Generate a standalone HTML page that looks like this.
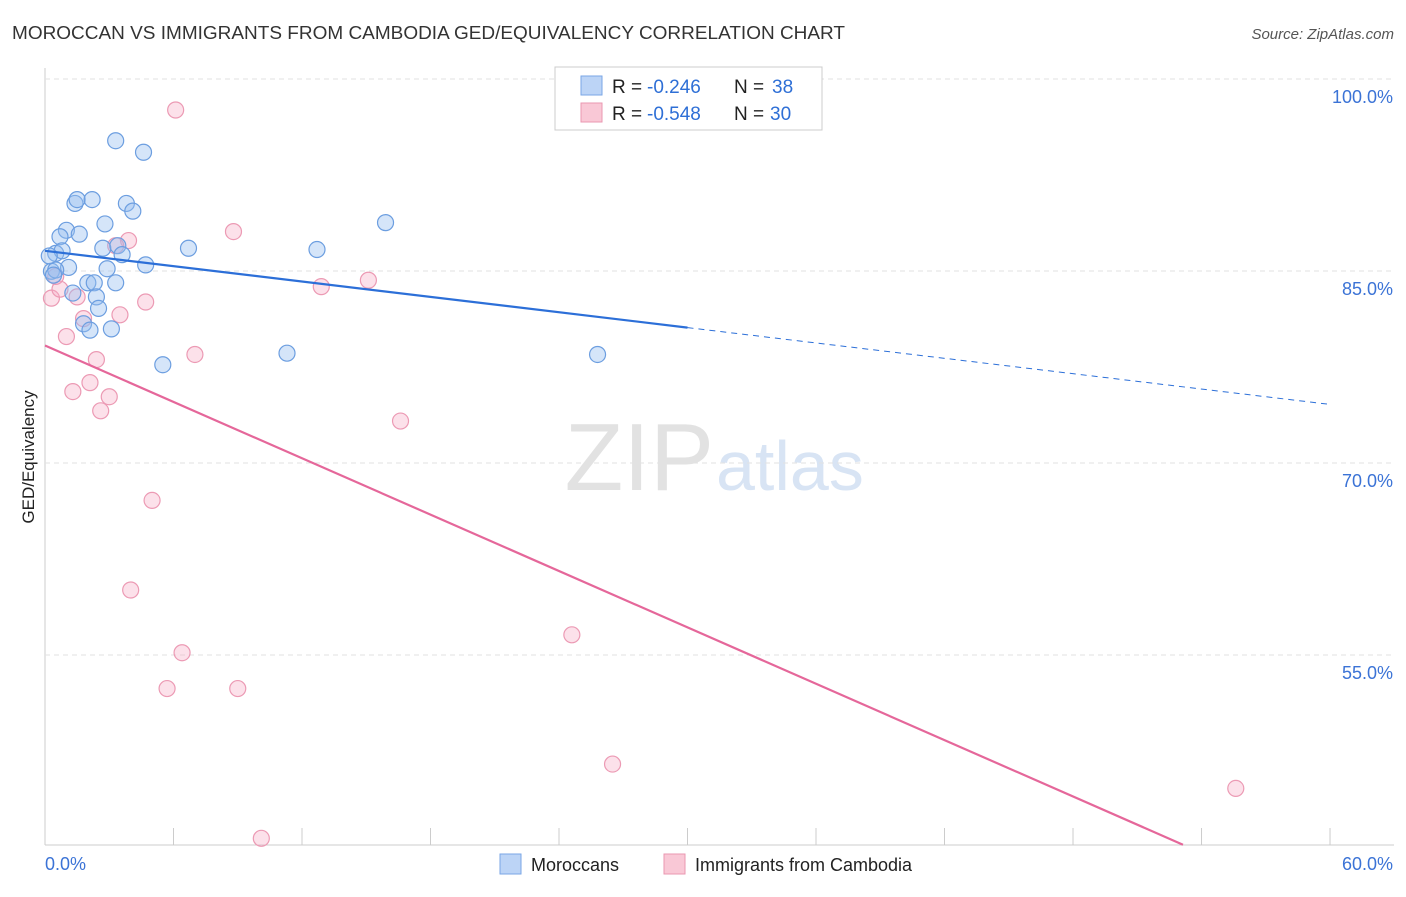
<!DOCTYPE html>
<html><head><meta charset="utf-8"><style>
body{margin:0;background:#fff;font-family:"Liberation Sans",sans-serif;}
svg text{font-family:"Liberation Sans",sans-serif;}
</style></head><body>
<svg id="c" width="1406" height="892" xmlns="http://www.w3.org/2000/svg">
<text x="12" y="39" font-size="18" fill="#333" textLength="833" lengthAdjust="spacingAndGlyphs">MOROCCAN VS IMMIGRANTS FROM CAMBODIA GED/EQUIVALENCY CORRELATION CHART</text>
<text x="1394" y="39" font-size="15" fill="#555" font-style="italic" text-anchor="end">Source: ZipAtlas.com</text>
<text x="714" y="490" font-size="96" fill="#e2e2e2" text-anchor="end" font-family="Liberation Serif">ZIP</text>
<text x="716" y="490" font-size="70" fill="#d8e4f4">atlas</text>
<text transform="translate(34,457) rotate(-90)" font-size="17" fill="#222" text-anchor="middle">GED/Equivalency</text>
<g id="grid"></g><g id="pts"></g><g id="lines"></g>
<g>
<rect x="555" y="67" width="267" height="63" fill="#fff" stroke="#ccc"/>
<rect x="581" y="76" width="21" height="19" fill="#bcd4f6" stroke="#7aa6e6"/>
<rect x="581" y="103" width="21" height="19" fill="#f9c8d6" stroke="#ea97b0"/>
<text x="612" y="93" font-size="19" fill="#222">R =</text>
<text x="647" y="93" font-size="19" fill="#2e6fd6">-0.246</text>
<text x="734" y="93" font-size="19" fill="#222">N =</text>
<text x="772" y="93" font-size="19" fill="#2e6fd6">38</text>
<text x="612" y="120" font-size="19" fill="#222">R =</text>
<text x="647" y="120" font-size="19" fill="#2e6fd6">-0.548</text>
<text x="734" y="120" font-size="19" fill="#222">N =</text>
<text x="770" y="120" font-size="19" fill="#2e6fd6">30</text>
</g>
<g>
<rect x="500" y="854" width="21" height="20" fill="#bcd4f6" stroke="#7aa6e6"/>
<text x="531" y="871" font-size="18" fill="#222">Moroccans</text>
<rect x="664" y="854" width="21" height="20" fill="#f9c8d6" stroke="#ea97b0"/>
<text x="695" y="871" font-size="18" fill="#222">Immigrants from Cambodia</text>
</g>
</svg>
<script>
const yTicks=[100,85,70,55];
const yTickLabels=["100.0%","85.0%","70.0%","55.0%"];
const xTicks=[0,6,12,18,24,30,36,42,48,54,60];
const blueX=[3.3,4.6,1.4,1.5,2.2,3.8,4.1,15.9,1.0,1.6,2.8,0.7,0.5,0.8,2.7,3.4,6.7,12.7,3.6,4.7,1.1,2.9,0.3,0.5,0.2,1.3,2.0,2.3,3.3,2.4,2.5,1.8,2.1,3.1,11.3,5.5,25.8,0.4];
const blueY=[95.1,94.2,90.2,90.5,90.5,90.2,89.6,88.7,88.1,87.8,88.6,87.6,86.3,86.5,86.7,86.9,86.7,86.6,86.2,85.4,85.2,85.1,84.9,85.0,86.1,83.2,84.0,84.0,84.0,82.9,82.0,80.8,80.3,80.4,78.5,77.6,78.4,84.6];
const pinkX=[6.1,8.8,3.9,3.3,15.1,12.9,4.7,0.3,0.7,0.5,1.5,3.5,1.8,1.0,2.4,7.0,2.1,1.3,3.0,2.6,16.6,5.0,4.0,24.6,6.4,5.7,9.0,26.5,55.6,10.1];
const pinkY=[97.5,88.0,87.3,86.9,84.2,83.7,82.5,82.8,83.5,84.5,82.9,81.5,81.2,79.8,78.0,78.4,76.2,75.5,75.1,74.0,73.2,67.0,60.0,56.5,55.1,52.3,52.3,46.4,44.5,40.6];
const blueTrend=[86.5,74.5];
const pinkTrend=[79.1,-0.734];
const X=v=>45+v*21.417, Y=v=>78+(100-v)*12.8;
const NS="http://www.w3.org/2000/svg";
function mk(p,t,a){const e=document.createElementNS(NS,t);for(const k in a)e.setAttribute(k,a[k]);p.appendChild(e);return e;}
const g=document.getElementById('grid');
mk(g,'line',{x1:45,y1:68,x2:45,y2:845,stroke:'#ccc'});
mk(g,'line',{x1:45,y1:845,x2:1394,y2:845,stroke:'#ccc'});
yTicks.forEach((v,i)=>{
 const l=mk(g,'line',{x1:45,y1:Y(v)+1,x2:1394,y2:Y(v)+1,stroke:'#e2e2e2','stroke-dasharray':'5,4'});
 
 
 const t=mk(g,'text',{x:1393,y:Y(v)+25,'font-size':18,fill:'#3b73d6','text-anchor':'end'});
 t.textContent=yTickLabels[i];
 
 
});
xTicks.forEach(v=>{const l=mk(g,'line',{x1:X(v),y1:828,x2:X(v),y2:845,stroke:'#ccc'});
 
 });
let t=mk(g,'text',{x:45,y:870,'font-size':18,fill:'#3b73d6'});t.textContent='0.0%';


t=mk(g,'text',{x:1393,y:870,'font-size':18,fill:'#3b73d6','text-anchor':'end'});t.textContent='60.0%';


const p=document.getElementById('pts');
pinkX.forEach((x,i)=>{const c=mk(p,'circle',{cx:X(x),cy:Y(pinkY[i]),r:8,fill:'rgba(246,170,195,0.35)',stroke:'#ec9ab4','stroke-width':1.2});
 
 });
blueX.forEach((x,i)=>{const c=mk(p,'circle',{cx:X(x),cy:Y(blueY[i]),r:8,fill:'rgba(150,190,240,0.4)',stroke:'#6c9ee0','stroke-width':1.2});
 
 });
const L=document.getElementById('lines');
const by=x=>blueTrend[0]+(blueTrend[1]-blueTrend[0])*x/60;
let l=mk(L,'line',{x1:X(0),y1:Y(by(0)),x2:X(30),y2:Y(by(30)),stroke:'#2c6fd8','stroke-width':2.2});


l=mk(L,'line',{x1:X(30),y1:Y(by(30)),x2:X(60),y2:Y(by(60)),stroke:'#2c6fd8','stroke-width':1,'stroke-dasharray':'6,5'});


const xEnd=(40.1-pinkTrend[0])/pinkTrend[1];
l=mk(L,'line',{x1:X(0),y1:Y(pinkTrend[0]),x2:X(xEnd),y2:Y(pinkTrend[0]+pinkTrend[1]*xEnd),stroke:'#e5679a','stroke-width':2.2});


</script>
</body></html>
